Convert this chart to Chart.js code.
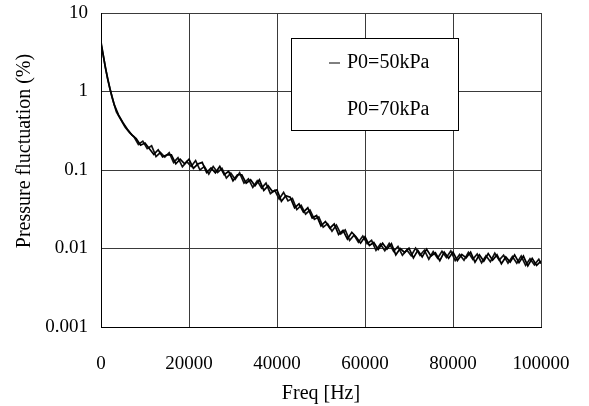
<!DOCTYPE html>
<html>
<head>
<meta charset="utf-8">
<script src="https://cdn.jsdelivr.net/npm/chart.js@4.4.0/dist/chart.umd.min.js"></script>
<style>
  html, body { margin: 0; padding: 0; background: #fff; }
  #wrap { width: 589px; height: 406px; }
</style>
</head>
<body>
<div id="wrap"><canvas id="chart" width="589" height="406"></canvas></div>
<script>
const freq50 = [
  0, 1000, 2000, 3000, 4000, 5000, 6000, 7000, 8000, 9000,
  10000, 11000, 12000, 13000, 14000, 15000, 16000, 17000, 18000, 19000,
  20000, 21000, 22000, 23000, 24000, 25000, 26000, 27000, 28000, 29000,
  30000, 31000, 32000, 33000, 34000, 35000, 36000, 37000, 38000, 39000,
  40000, 41000, 42000, 43000, 44000, 45000, 46000, 47000, 48000, 49000,
  50000, 51000, 52000, 53000, 54000, 55000, 56000, 57000, 58000, 59000,
  60000, 61000, 62000, 63000, 64000, 65000, 66000, 67000, 68000, 69000,
  70000, 71000, 72000, 73000, 74000, 75000, 76000, 77000, 78000, 79000,
  80000, 81000, 82000, 83000, 84000, 85000, 86000, 87000, 88000, 89000,
  90000, 91000, 92000, 93000, 94000, 95000, 96000, 97000, 98000, 99000,
  100000
];

// pressure fluctuation (%) for P0 = 50 kPa
const p50 = [
  4.3, 2.0, 1.1, 0.68, 0.50, 0.40, 0.33, 0.28, 0.252, 0.207,
  0.221, 0.186, 0.158, 0.181, 0.147, 0.156, 0.156, 0.120, 0.137, 0.120,
  0.137, 0.105, 0.119, 0.125, 0.093, 0.106, 0.092, 0.111, 0.087, 0.096,
  0.073, 0.087, 0.087, 0.068, 0.075, 0.063, 0.075, 0.055, 0.063, 0.053,
  0.056, 0.040, 0.047, 0.045, 0.033, 0.037, 0.029, 0.033, 0.0244, 0.0264,
  0.0194, 0.0221, 0.0182, 0.0205, 0.0151, 0.0170, 0.0132, 0.0161, 0.0140, 0.0117,
  0.0141, 0.0109, 0.0119, 0.0097, 0.0117, 0.0098, 0.0115, 0.0083, 0.0100, 0.0089,
  0.0101, 0.0076, 0.0095, 0.0078, 0.0098, 0.0080, 0.0088, 0.0070, 0.0090, 0.0075,
  0.0090, 0.0070, 0.0084, 0.0076, 0.0090, 0.0067, 0.0083, 0.0069, 0.0086, 0.0071,
  0.0083, 0.0064, 0.0078, 0.0067, 0.0083, 0.0066, 0.0080, 0.0060, 0.0075, 0.0061,
  0.0069
];

const freq70 = [
  0, 500, 1500, 2500, 3500, 4500, 5500, 6500, 7500, 8500, 9500,
  10500, 11500, 12500, 13500, 14500, 15500, 16500, 17500, 18500, 19500,
  20500, 21500, 22500, 23500, 24500, 25500, 26500, 27500, 28500, 29500,
  30500, 31500, 32500, 33500, 34500, 35500, 36500, 37500, 38500, 39500,
  40500, 41500, 42500, 43500, 44500, 45500, 46500, 47500, 48500, 49500,
  50500, 51500, 52500, 53500, 54500, 55500, 56500, 57500, 58500, 59500,
  60500, 61500, 62500, 63500, 64500, 65500, 66500, 67500, 68500, 69500,
  70500, 71500, 72500, 73500, 74500, 75500, 76500, 77500, 78500, 79500,
  80500, 81500, 82500, 83500, 84500, 85500, 86500, 87500, 88500, 89500,
  90500, 91500, 92500, 93500, 94500, 95500, 96500, 97500, 98500, 99500,
  100000
];

// pressure fluctuation (%) for P0 = 70 kPa
const p70 = [
  4.0, 2.9, 1.45, 0.85, 0.55, 0.44, 0.35, 0.30, 0.265, 0.212, 0.233,
  0.187, 0.204, 0.148, 0.167, 0.146, 0.166, 0.125, 0.143, 0.110, 0.128,
  0.111, 0.132, 0.100, 0.111, 0.089, 0.111, 0.093, 0.105, 0.079, 0.091,
  0.076, 0.092, 0.068, 0.077, 0.060, 0.073, 0.059, 0.068, 0.050, 0.055,
  0.0427, 0.0519, 0.0404, 0.0435, 0.0314, 0.0355, 0.0275, 0.0308, 0.0235, 0.0253,
  0.0187, 0.0207, 0.0166, 0.0199, 0.0154, 0.0172, 0.0127, 0.0148, 0.0120, 0.0144,
  0.0115, 0.0127, 0.0095, 0.0114, 0.0094, 0.0116, 0.0092, 0.0106, 0.0082, 0.0096,
  0.0081, 0.0101, 0.0082, 0.0095, 0.0073, 0.0091, 0.0075, 0.0092, 0.0077, 0.0093,
  0.0070, 0.0084, 0.0071, 0.0089, 0.0073, 0.0085, 0.0066, 0.0081, 0.0068, 0.0087,
  0.0071, 0.0082, 0.0065, 0.0079, 0.0065, 0.0080, 0.0061, 0.0074, 0.0062, 0.0073,
  0.0064
];

const seriesLabels = ['P0=50kPa', 'P0=70kPa'];
const xTicks = [0, 20000, 40000, 60000, 80000, 100000];
const xTickLabels = ['0', '20000', '40000', '60000', '80000', '100000'];
const yTicks = [0.001, 0.01, 0.1, 1, 10];
const yTickLabels = ['0.001', '0.01', '0.1', '1', '10'];
const yTitle = 'Pressure fluctuation (%)';

const serif = "'Liberation Serif', 'Times New Roman', serif";
Chart.defaults.font.family = serif;
Chart.defaults.color = '#000';

// boxed legend sitting inside the plot, like the original figure
const boxLegend = {
  id: 'boxLegend',
  afterDraw(chart) {
    const c = chart.ctx;
    c.save();
    c.fillStyle = '#fff';
    c.fillRect(291, 38, 167, 92);
    c.strokeStyle = '#000';
    c.lineWidth = 1;
    c.strokeRect(291.5, 38.5, 167, 92);
    c.font = '20px ' + serif;
    c.fillStyle = '#000';
    c.textBaseline = 'middle';
    chart.data.datasets.forEach((ds, i) => {
      const y = 63 + i * 47;
      if (i === 0) {
        c.beginPath();
        c.moveTo(329, y);
        c.lineTo(340, y);
        c.stroke();
      }
      c.fillText(ds.label, 347, y);
    });
    c.restore();
  }
};

// y title sits above the middle of the axis in the original, so draw it here
const yAxisTitle = {
  id: 'yAxisTitle',
  afterDraw(chart) {
    const c = chart.ctx;
    c.save();
    c.translate(25, 151);
    c.rotate(-Math.PI / 2);
    c.font = '20px ' + serif;
    c.fillStyle = '#000';
    c.textAlign = 'center';
    c.textBaseline = 'middle';
    c.fillText(yTitle, 0, 0);
    c.restore();
  }
};

const toPoints = (xs, ys) => xs.map((f, i) => ({ x: f, y: ys[i] }));

new Chart(document.getElementById('chart'), {
  type: 'line',
  data: {
    datasets: [
      {
        label: seriesLabels[0],
        data: toPoints(freq50, p50),
        borderColor: '#000',
        borderWidth: 1.7,
        pointRadius: 0,
        tension: 0
      },
      {
        label: seriesLabels[1],
        data: toPoints(freq70, p70),
        borderColor: '#111',
        borderWidth: 1.7,
        pointRadius: 0,
        tension: 0
      }
    ]
  },
  options: {
    responsive: false,
    animation: false,
    layout: { padding: { top: 13, right: 48, bottom: 0, left: 0 } },
    plugins: {
      legend: { display: false },
      tooltip: { enabled: false }
    },
    scales: {
      x: {
        type: 'linear',
        min: 0,
        max: 100000,
        afterBuildTicks: s => { s.ticks = xTicks.map(v => ({ value: v })); },
        afterFit: s => { s.height = 79; s.paddingLeft = 0; s.paddingRight = 0; },
        ticks: {
          callback: (v, i) => xTickLabels[i],
          font: { size: 19 },
          padding: 26,
          maxRotation: 0,
          autoSkip: false
        },
        grid: { color: '#3a3a3a', lineWidth: 1, drawTicks: false },
        border: { color: '#000', width: 1 },
        title: {
          display: true,
          text: 'Freq [Hz]',
          font: { size: 20 },
          padding: { top: 0, bottom: 0 }
        }
      },
      y: {
        type: 'logarithmic',
        min: 0.001,
        max: 10,
        afterBuildTicks: s => { s.ticks = yTicks.map(v => ({ value: v, major: true })); },
        afterFit: s => { s.width = 101; s.paddingTop = 0; s.paddingBottom = 0; },
        ticks: {
          callback: (v, i) => yTickLabels[i],
          font: { size: 19 },
          padding: 13,
          autoSkip: false
        },
        grid: { color: '#3a3a3a', lineWidth: 1, drawTicks: false },
        border: { color: '#000', width: 1 }
      }
    }
  },
  plugins: [boxLegend, yAxisTitle]
});
</script>
</body>
</html>
